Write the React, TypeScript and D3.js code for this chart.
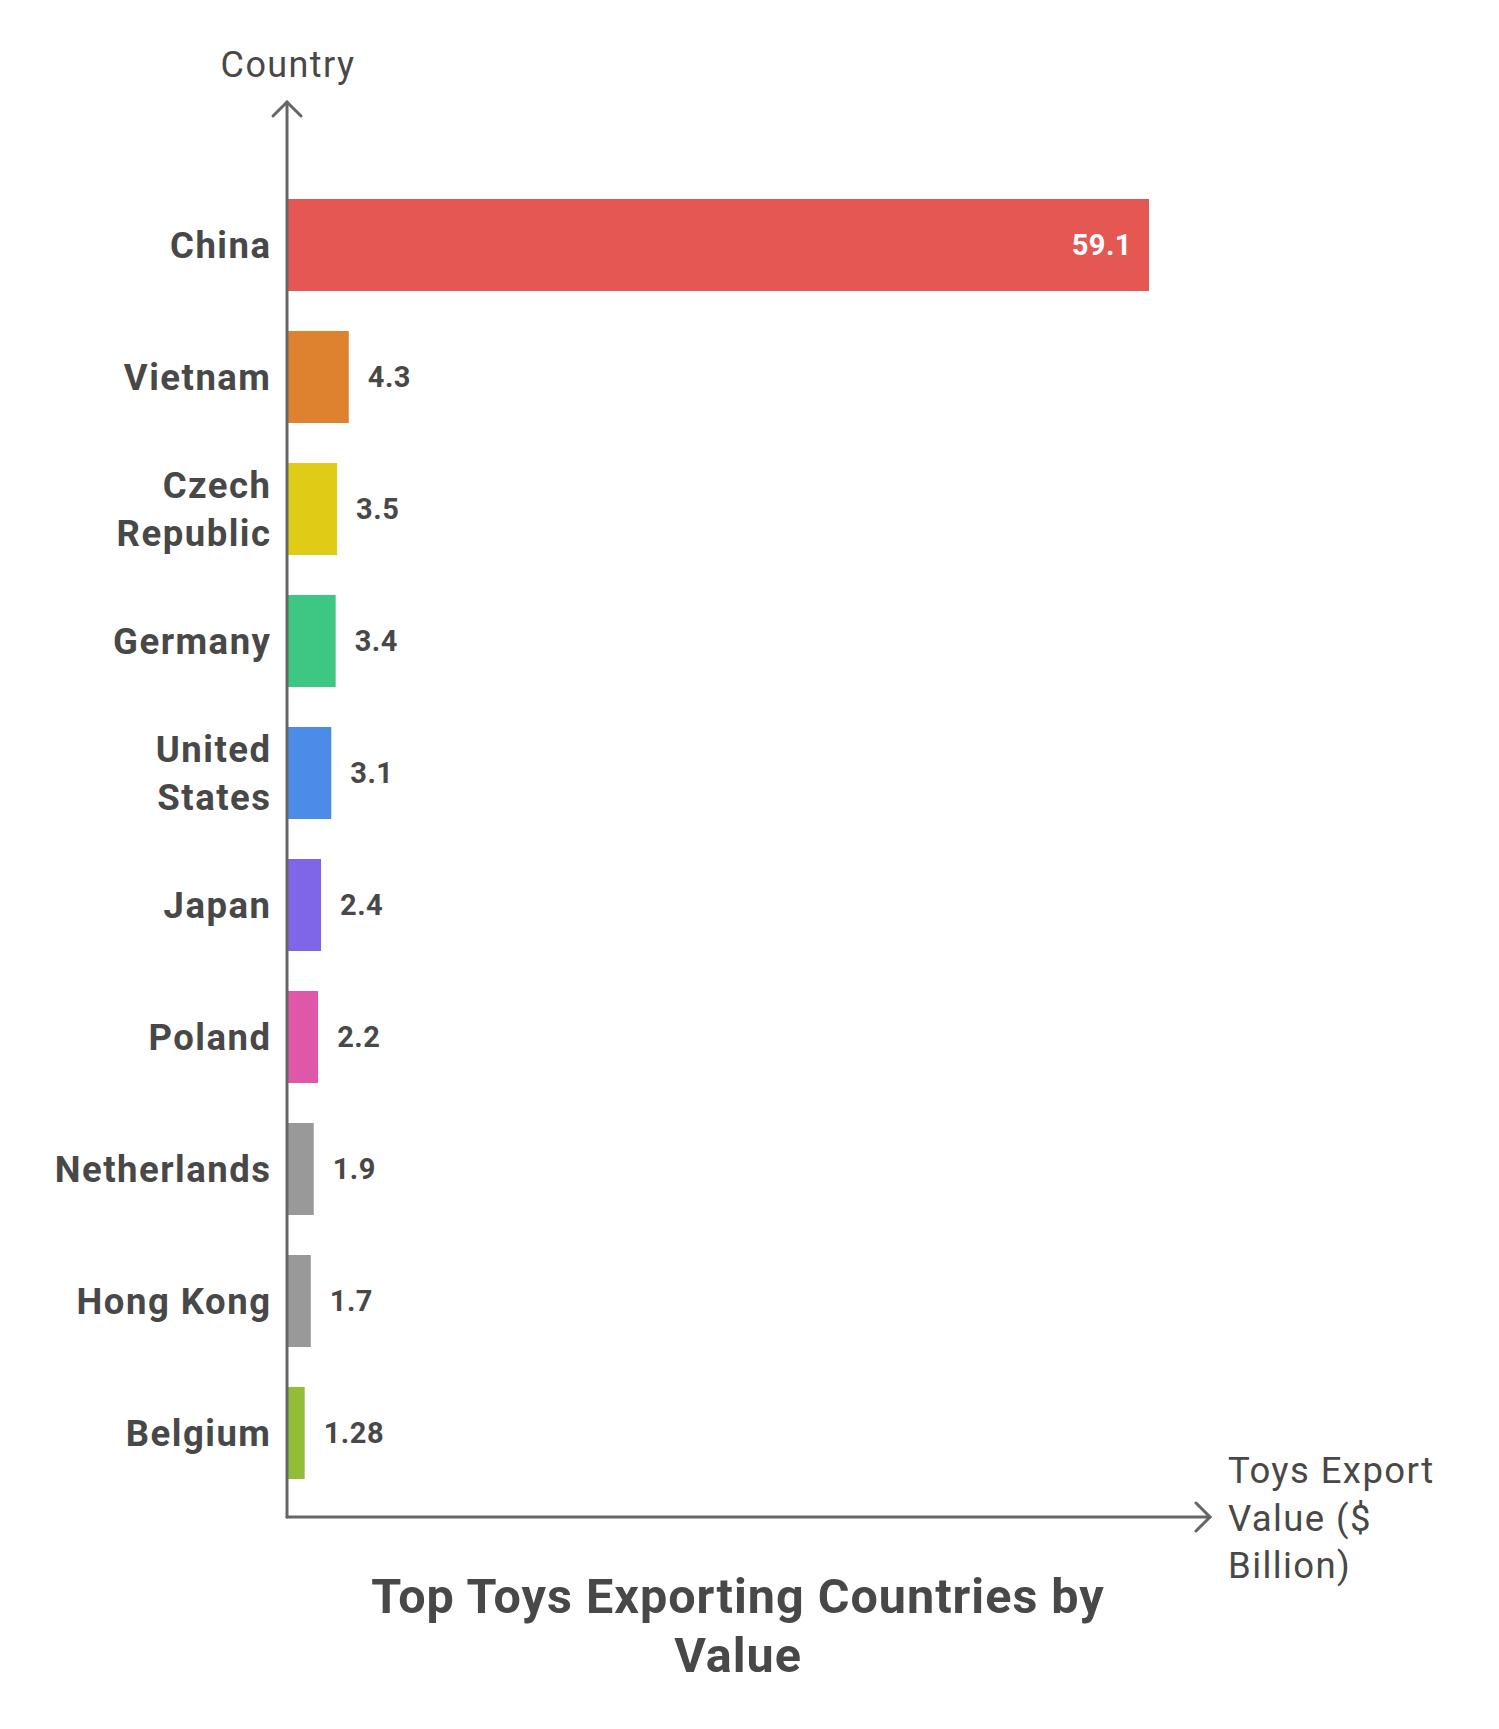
import React from 'react';
import * as d3 from 'd3';

// data
const countries = [
  'China',
  'Vietnam',
  'Czech Republic',
  'Germany',
  'United States',
  'Japan',
  'Poland',
  'Netherlands',
  'Hong Kong',
  'Belgium',
];
const labelLines = [
  ['China'],
  ['Vietnam'],
  ['Czech', 'Republic'],
  ['Germany'],
  ['United', 'States'],
  ['Japan'],
  ['Poland'],
  ['Netherlands'],
  ['Hong Kong'],
  ['Belgium'],
];
const values = [59.1, 4.3, 3.5, 3.4, 3.1, 2.4, 2.2, 1.9, 1.7, 1.28];
const valueLabels = ['59.1', '4.3', '3.5', '3.4', '3.1', '2.4', '2.2', '1.9', '1.7', '1.28'];
const colors = [
  '#e55753',
  '#de8230',
  '#e0cc17',
  '#3dc782',
  '#4c8be8',
  '#7f66e8',
  '#df57a8',
  '#999999',
  '#999999',
  '#92bd39',
];

const W = 1499;
const H = 1729;
const FONT = 'Roboto, "Open Sans", sans-serif';
const TEXT = '#484848';
const AXIS = '#666666';

const App = () => {
  const axisX = 287;
  const axisY = 1517;

  const x = d3.scaleLinear().domain([0, d3.max(values) as number]).range([286, 1149]);
  const y = d3
    .scaleBand()
    .domain(countries)
    .range([179, 179 + 132 * countries.length])
    .paddingInner(40 / 132)
    .paddingOuter(20 / 132);

  return (
    <svg width={W} height={H} style={{ display: 'block', margin: -8 }}>
      <rect width={W} height={H} fill="#fff" />

      {/* bars */}
      {countries.map((c, i) => (
        <rect
          key={c}
          x={x(0)}
          y={y(c)}
          width={x(values[i]) - x(0)}
          height={y.bandwidth()}
          fill={colors[i]}
        />
      ))}

      {/* value labels */}
      {countries.map((c, i) => {
        const cy = (y(c) as number) + y.bandwidth() / 2;
        const inside = i === 0;
        return (
          <text
            key={c + '-v'}
            x={inside ? x(values[i]) - 17 : x(values[i]) + 19}
            y={cy}
            dy="0.36em"
            textAnchor={inside ? 'end' : 'start'}
            fontFamily={FONT}
            fontWeight={700}
            fontSize={29}
            letterSpacing={0.5}
            fill={inside ? '#ffffff' : TEXT}
          >
            {valueLabels[i]}
          </text>
        );
      })}

      {/* category labels */}
      {countries.map((c, i) => {
        const cy = (y(c) as number) + y.bandwidth() / 2;
        const lines = labelLines[i];
        const start = -((lines.length - 1) * 48) / 2;
        return (
          <text
            key={c + '-l'}
            textAnchor="end"
            fontFamily={FONT}
            fontWeight={700}
            fontSize={36.5}
            letterSpacing={1.5}
            fill={TEXT}
          >
            {lines.map((ln, j) => (
              <tspan key={j} x={271.5} y={cy + start + j * 48} dy="0.36em">
                {ln}
              </tspan>
            ))}
          </text>
        );
      })}

      {/* axes */}
      <g stroke={AXIS} strokeWidth={3} fill="none" strokeLinecap="round">
        <line x1={axisX} y1={axisY} x2={axisX} y2={102} />
        <polyline points={`${axisX - 14},116 ${axisX},102 ${axisX + 14},116`} />
        <line x1={axisX} y1={axisY} x2={1210} y2={axisY} />
        <polyline points={`1196,${axisY - 14} 1210,${axisY} 1196,${axisY + 14}`} />
      </g>

      {/* axis titles */}
      <text
        x={axisX + 1}
        y={77}
        textAnchor="middle"
        fontFamily={FONT}
        fontSize={36}
        letterSpacing={1.4}
        fill={TEXT}
      >
        Country
      </text>
      <text fontFamily={FONT} fontSize={36.5} letterSpacing={1.4} fill={TEXT}>
        <tspan x={1228} y={1483}>Toys Export</tspan>
        <tspan x={1228} y={1531}>Value ($</tspan>
        <tspan x={1228} y={1578}>Billion)</tspan>
      </text>

      {/* title */}
      <text
        textAnchor="middle"
        fontFamily={FONT}
        fontWeight={700}
        fontSize={48.5}
        letterSpacing={1}
        fill={TEXT}
      >
        <tspan x={738} y={1613}>Top Toys Exporting Countries by</tspan>
        <tspan x={738} y={1672}>Value</tspan>
      </text>
    </svg>
  );
};

export default App;
